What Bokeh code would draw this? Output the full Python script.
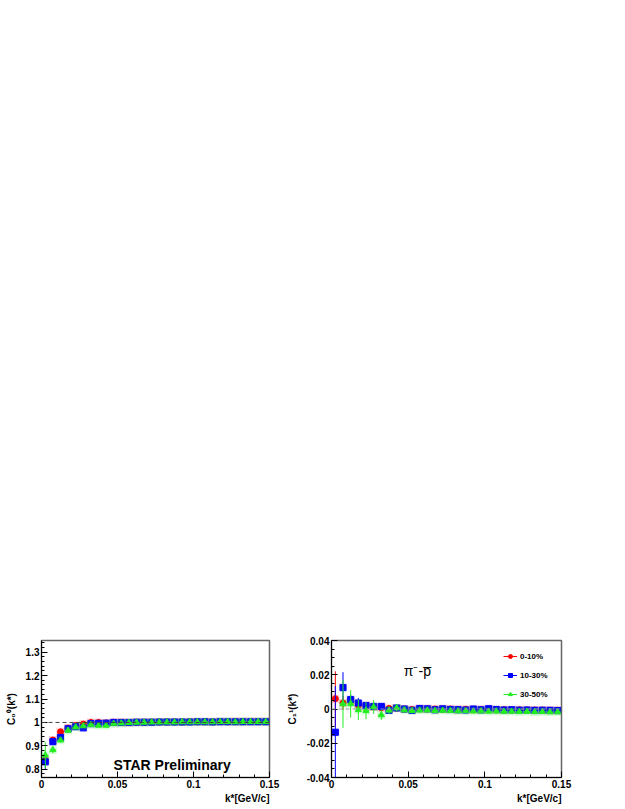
from bokeh.plotting import figure
from bokeh.layouts import row
from bokeh.models import (ColumnDataSource, Span, Label, Legend, LegendItem, FixedTicker,
                          Range1d, Title)
from bokeh.embed import file_html
from bokeh.resources import INLINE

nan = float("nan")

# ---------------- data ----------------
kstar = [0.0025, 0.0075, 0.0125, 0.0175, 0.0225, 0.0275, 0.0325, 0.0375, 0.0425, 0.0475,
         0.0525, 0.0575, 0.0625, 0.0675, 0.0725, 0.0775, 0.0825, 0.0875, 0.0925, 0.0975,
         0.1025, 0.1075, 0.1125, 0.1175, 0.1225, 0.1275, 0.1325, 0.1375, 0.1425, 0.1475]
kstar_halfwidth = 0.002

centralities = ["0-10%", "10-30%", "30-50%"]

c00 = {
    "0-10%": [0.840, 0.925, 0.960, 0.976, 0.987, 0.993, 1.000, 1.000, 0.998, 1.001,
              1.001, 1.000, 1.001, 1.001, 1.002, 1.002, 1.002, 1.002, 1.002, 1.003,
              1.003, 1.003, 1.003, 1.004, 1.003, 1.004, 1.004, 1.004, 1.004, 1.004],
    "10-30%": [0.832, 0.918, 0.936, 0.973, 0.982, 0.977, 0.995, 0.996, 0.997, 1.000,
               1.000, 1.000, 1.001, 1.001, 1.001, 1.002, 1.002, 1.002, 1.002, 1.002,
               1.003, 1.003, 1.002, 1.003, 1.003, 1.003, 1.003, 1.003, 1.003, 1.003],
    "30-50%": [0.860, 0.883, 0.924, 0.966, 0.980, 0.985, 0.990, 0.987, 0.987, 0.995,
               0.997, 0.999, 1.000, 1.000, 1.001, 1.001, 1.001, 1.001, 1.002, 1.002,
               1.002, 1.002, 1.002, 1.003, 1.003, 1.002, 1.003, 1.003, 1.003, 1.003],
}
c00_err = {
    "0-10%": [0.015, 0.008, 0.006, 0.005, 0.004, 0.004, 0.003, 0.003, 0.003, 0.002,
              0.002, 0.002, 0.002, 0.002, 0.002, 0.002, 0.002, 0.002, 0.002, 0.002,
              0.002, 0.002, 0.002, 0.002, 0.002, 0.002, 0.002, 0.002, 0.002, 0.002],
    "10-30%": [0.035, 0.012, 0.008, 0.006, 0.005, 0.004, 0.004, 0.003, 0.003, 0.003,
               0.002, 0.002, 0.002, 0.002, 0.002, 0.002, 0.002, 0.002, 0.002, 0.002,
               0.002, 0.002, 0.002, 0.002, 0.002, 0.002, 0.002, 0.002, 0.002, 0.002],
    "30-50%": [0.055, 0.015, 0.010, 0.008, 0.006, 0.005, 0.005, 0.004, 0.004, 0.003,
               0.003, 0.003, 0.002, 0.002, 0.002, 0.002, 0.002, 0.002, 0.002, 0.002,
               0.002, 0.002, 0.002, 0.002, 0.002, 0.002, 0.002, 0.002, 0.002, 0.002],
}

c11 = {
    "0-10%": [0.0060, 0.0035, 0.0045, 0.0022, 0.0020, 0.0012, 0.0008, 0.0003, 0.0005, 0.0000,
              -0.0003, 0.0002, 0.0001, 0.0000, -0.0002, 0.0000, -0.0003, -0.0002, -0.0004, -0.0003,
              -0.0004, -0.0005, -0.0004, -0.0006, -0.0005, -0.0006, -0.0006, -0.0007, -0.0007, -0.0008],
    "10-30%": [-0.0136, 0.0125, 0.0055, 0.0035, 0.0020, 0.0015, 0.0015, -0.0008, 0.0006, 0.0000,
               -0.0008, 0.0003, 0.0001, -0.0005, 0.0001, -0.0003, -0.0004, -0.0006, 0.0000, -0.0005,
               0.0002, -0.0003, -0.0006, -0.0004, -0.0007, -0.0006, -0.0008, -0.0007, -0.0008, -0.0009],
    "30-50%": [nan, 0.0030, 0.0030, -0.0005, -0.0010, 0.0012, -0.0035, -0.0008, 0.0006, -0.0006,
               -0.0010, -0.0008, -0.0007, -0.0010, -0.0009, -0.0010, -0.0012, -0.0011, -0.0013, -0.0012,
               -0.0014, -0.0013, -0.0015, -0.0014, -0.0016, -0.0015, -0.0017, -0.0016, -0.0018, -0.0018],
}
c11_err = {
    "0-10%": [0.016, 0.004, 0.003, 0.002, 0.0015, 0.0012, 0.001, 0.001, 0.001, 0.001,
              0.001, 0.001, 0.001, 0.001, 0.001, 0.001, 0.001, 0.001, 0.001, 0.001,
              0.001, 0.001, 0.001, 0.001, 0.001, 0.001, 0.001, 0.001, 0.001, 0.001],
    "10-30%": [0.027, 0.009, 0.003, 0.003, 0.002, 0.0015, 0.0012, 0.001, 0.001, 0.001,
               0.001, 0.001, 0.001, 0.001, 0.001, 0.001, 0.001, 0.001, 0.001, 0.001,
               0.001, 0.001, 0.001, 0.001, 0.001, 0.001, 0.001, 0.001, 0.001, 0.001],
    "30-50%": [nan, 0.014, 0.008, 0.006, 0.005, 0.004, 0.003, 0.002, 0.002, 0.0015,
               0.0012, 0.001, 0.001, 0.001, 0.001, 0.001, 0.001, 0.001, 0.001, 0.001,
               0.001, 0.001, 0.001, 0.001, 0.001, 0.001, 0.001, 0.001, 0.001, 0.001],
}

x_ticks = [0, 0.05, 0.1, 0.15]
x_tick_labels = {0: "0", 0.05: "0.05", 0.1: "0.1", 0.15: "0.15"}
x_minor = [0.01, 0.02, 0.03, 0.04, 0.06, 0.07, 0.08, 0.09, 0.11, 0.12, 0.13, 0.14]
y0_ticks = [0.8, 0.9, 1.0, 1.1, 1.2, 1.3]
y0_tick_labels = {0.8: "0.8", 0.9: "0.9", 1.0: "1", 1.1: "1.1", 1.2: "1.2", 1.3: "1.3"}
y0_minor = [0.78, 0.82, 0.84, 0.86, 0.88, 0.92, 0.94, 0.96, 0.98, 1.02, 1.04, 1.06, 1.08,
            1.12, 1.14, 1.16, 1.18, 1.22, 1.24, 1.26, 1.28, 1.32, 1.34]
y1_ticks = [-0.04, -0.02, 0, 0.02, 0.04]
y1_tick_labels = {-0.04: "-0.04", -0.02: "-0.02", 0: "0", 0.02: "0.02", 0.04: "0.04"}
y1_minor = [-0.035, -0.03, -0.025, -0.015, -0.01, -0.005, 0.005, 0.01, 0.015, 0.025, 0.03, 0.035]

colors = {"0-10%": "#ff0000", "10-30%": "#0000ff", "30-50%": "#22ee22"}
markers = {"0-10%": "circle", "10-30%": "square", "30-50%": "triangle"}

FONT = "Liberation Sans"


def style_axes(p, yt, ytl, ym):
    p.xaxis.ticker = FixedTicker(ticks=x_ticks, minor_ticks=x_minor)
    p.xaxis.major_label_overrides = x_tick_labels
    p.yaxis.ticker = FixedTicker(ticks=yt, minor_ticks=ym)
    p.yaxis.major_label_overrides = ytl
    for ax in (p.xaxis[0], p.yaxis[0]):
        ax.major_tick_in = 6
        ax.major_tick_out = 0
        ax.minor_tick_in = 3
        ax.minor_tick_out = 0
        ax.axis_line_color = "black"
        ax.major_tick_line_color = "black"
        ax.minor_tick_line_color = "black"
        ax.major_label_text_font = FONT
        ax.major_label_text_font_style = "bold"
        ax.major_label_text_font_size = "10px"
        ax.major_label_text_color = "black"
        ax.major_label_standoff = 2
        ax.axis_label_text_font = FONT
        ax.axis_label_text_font_style = "bold"
        ax.axis_label_text_font_size = "10px"
        ax.axis_label_text_color = "black"
        ax.axis_label_standoff = 6
    p.xgrid.visible = False
    p.ygrid.visible = False
    p.outline_line_color = "#666666"
    p.outline_line_width = 1.5
    xt = Title(text="k*[GeV/c]", align="right", text_font=FONT, text_font_style="bold",
               text_font_size="10px", text_color="black", standoff=0, offset=0)
    p.add_layout(xt, "below")


def draw_series(p, ydict, edict):
    items = []
    for c in centralities:
        y = ydict[c]
        e = edict[c]
        src = ColumnDataSource(dict(
            x=kstar, y=y,
            xl=[k - kstar_halfwidth for k in kstar], xr=[k + kstar_halfwidth for k in kstar],
            yl=[a - b for a, b in zip(y, e)], yh=[a + b for a, b in zip(y, e)],
        ))
        col = colors[c]
        p.rect("x", "y", width=8, height=8, width_units="screen", height_units="screen",
               source=src, fill_color=col, fill_alpha=0.18, line_color=None)
        p.segment("x", "yl", "x", "yh", source=src, line_color=col, line_width=1)
        h = p.segment("xl", "y", "xr", "y", source=src, line_color=col, line_width=1)
        s = p.scatter("x", "y", source=src, marker=markers[c], size=6,
                      fill_color=col, line_color=col)
        items.append(LegendItem(label=c, renderers=[h, s]))
    return items


common = dict(output_backend="svg", toolbar_location=None, height=805,
              min_border_top=640, min_border_bottom=28, background_fill_color="white",
              border_fill_color="white")

# ---------------- left panel ----------------
p1 = figure(width=283, min_border_left=41, min_border_right=14,
            x_range=Range1d(0, 0.15), y_range=Range1d(0.765, 1.35), **common)
p1.add_layout(Span(location=1, dimension="width", line_color="#444444",
                   line_dash="4 3", line_width=1))
draw_series(p1, c00, c00_err)
style_axes(p1, y0_ticks, y0_tick_labels, y0_minor)
p1.yaxis.axis_label = "C\u2080\u2070(k*)"
p1.add_layout(Label(x=0.086, y=0.82, text="STAR Preliminary", text_font=FONT,
                    text_font_style="bold", text_font_size="14px", text_color="black",
                    text_align="center", text_baseline="middle"))

# ---------------- right panel ----------------
p2 = figure(width=334, min_border_left=48, min_border_right=56,
            x_range=Range1d(0, 0.15), y_range=Range1d(-0.04, 0.04), **common)
p2.add_layout(Span(location=0, dimension="width", line_color="#999999",
                   line_dash="4 3", line_width=1))
items = draw_series(p2, c11, c11_err)
style_axes(p2, y1_ticks, y1_tick_labels, y1_minor)
p2.yaxis.axis_label = "C\u2081\u00b9(k*)"
p2.add_layout(Label(x=0.056, y=0.022, text="\u03c0\u207b-p\u0305", text_font=FONT,
                    text_font_size="14px", text_color="black",
                    text_align="center", text_baseline="middle"))
legend = Legend(items=items, location=(172, 78), border_line_alpha=0,
                background_fill_alpha=0, label_text_font=FONT, label_text_font_style="bold",
                label_text_font_size="8px", label_text_color="black",
                glyph_width=14, glyph_height=10, spacing=9,
                padding=0, margin=0, label_standoff=3, label_height=10)
p2.add_layout(legend)

layout = row(p1, p2)
open("out.html", "w").write(file_html(layout, INLINE))
